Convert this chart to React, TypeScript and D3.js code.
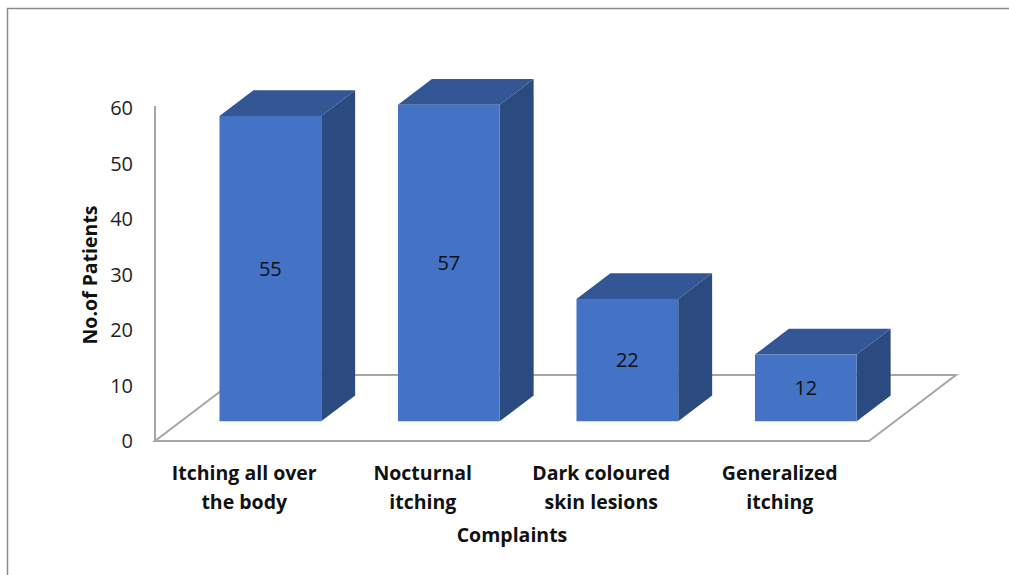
import React from "react";
import * as d3 from "d3";

const categories: string[][] = [
  ["Itching all over", "the body"],
  ["Nocturnal", "itching"],
  ["Dark coloured", "skin lesions"],
  ["Generalized", "itching"],
];
const patients: number[] = [55, 57, 22, 12];
const yTicks: number[] = [0, 10, 20, 30, 40, 50, 60];
const yTitle = "No.of Patients";
const xTitle = "Complaints";

const W = 1009;
const H = 575;

// floor depth vector (front → back)
const DX = 87;
const DY = -66;
// bar placement within the depth
const FRONT = 0.3;
const BACK = 0.69;

const FONT = "'Open Sans', 'Noto Sans', sans-serif";

export default function App() {
  const x = d3
    .scaleBand<number>()
    .domain(categories.map((_, i) => i))
    .range([155, 869])
    .paddingInner(0.43)
    .paddingOuter(0.215);
  const y = d3.scaleLinear().domain([0, 60]).range([441, 108]);

  const x0 = 155;
  const x1 = 869;
  const yb = y(0);

  const pt = (px: number, py: number, f: number) =>
    `${px + DX * f},${py + DY * f}`;

  return (
    <svg
      width={W}
      height={H}
      style={{ position: "absolute", left: 0, top: 0, background: "#fff" }}
    >
      {/* outer frame */}
      <path d={`M7.5,${H} V8.5 H${W}`} fill="none" stroke="#8a8a8a" strokeWidth={1.5} />

      {/* floor */}
      <polygon
        points={[pt(x0, yb, 0), pt(x1, yb, 0), pt(x1, yb, 1), pt(x0, yb, 1)].join(" ")}
        fill="none"
        stroke="#a6a6a6"
        strokeWidth={2}
      />
      {/* vertical axis */}
      <line x1={x0} x2={x0} y1={y(60) - 2} y2={yb} stroke="#a6a6a6" strokeWidth={2} />

      {/* y tick labels */}
      {yTicks.map((t) => (
        <text
          key={t}
          x={133}
          y={y(t)}
          dy="0.35em"
          textAnchor="end"
          fontFamily={FONT}
          fontSize={20}
          fill="#1f1f1f"
        >
          {t}
        </text>
      ))}

      {/* bars */}
      {patients.map((v, i) => {
        const bx = x(i)!;
        const bw = x.bandwidth();
        const top = y(v);
        const front = [
          pt(bx, top, FRONT),
          pt(bx + bw, top, FRONT),
          pt(bx + bw, yb, FRONT),
          pt(bx, yb, FRONT),
        ].join(" ");
        const topFace = [
          pt(bx, top, FRONT),
          pt(bx, top, BACK),
          pt(bx + bw, top, BACK),
          pt(bx + bw, top, FRONT),
        ].join(" ");
        const side = [
          pt(bx + bw, top, FRONT),
          pt(bx + bw, top, BACK),
          pt(bx + bw, yb, BACK),
          pt(bx + bw, yb, FRONT),
        ].join(" ");
        const cx = bx + bw / 2 + DX * FRONT;
        const cy = (top + yb) / 2 + DY * FRONT;
        return (
          <g key={i}>
            <polygon points={side} fill="#2b4a7f" />
            <polygon points={topFace} fill="#325794" />
            <polygon points={front} fill="#4472c4" />
            <text
              x={cx}
              y={cy}
              dy="0.35em"
              textAnchor="middle"
              fontFamily={FONT}
              fontSize={20}
              fill="#111"
            >
              {v}
            </text>
          </g>
        );
      })}

      {/* category labels */}
      {categories.map((lines, i) => (
        <text
          key={i}
          textAnchor="middle"
          fontFamily={FONT}
          fontSize={19.5}
          fontWeight="bold"
          fill="#111"
        >
          {lines.map((l, j) => (
            <tspan key={j} x={x(i)! + x.bandwidth() / 2} y={480 + j * 29}>
              {l}
            </tspan>
          ))}
        </text>
      ))}

      {/* axis titles */}
      <text
        x={512}
        y={542}
        textAnchor="middle"
        fontFamily={FONT}
        fontSize={19.5}
        fontWeight="bold"
        fill="#111"
      >
        {xTitle}
      </text>
      <text
        transform={`translate(97,275) rotate(-90)`}
        textAnchor="middle"
        fontFamily={FONT}
        fontSize={19.5}
        fontWeight="bold"
        fill="#111"
      >
        {yTitle}
      </text>
    </svg>
  );
}
